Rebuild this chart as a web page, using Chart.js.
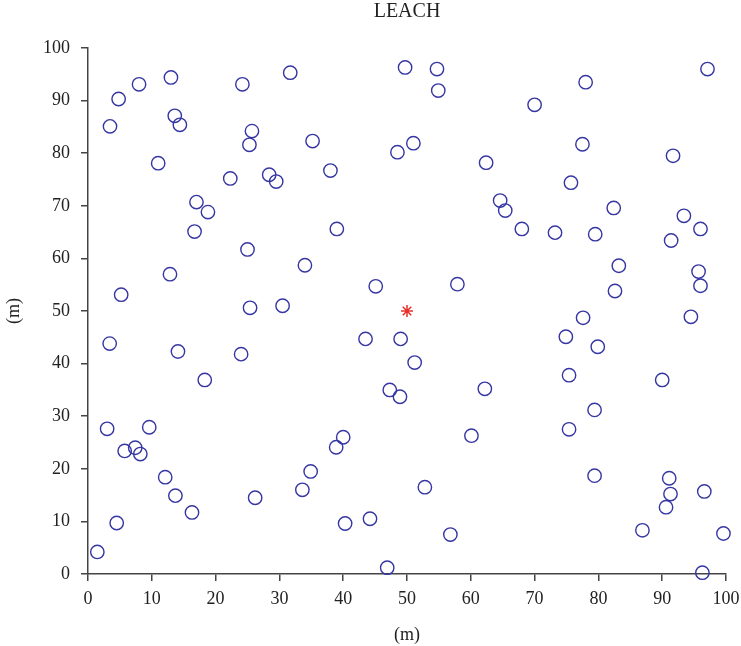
<!DOCTYPE html>
<html>
<head>
<meta charset="utf-8">
<title>LEACH</title>
<script src="https://cdn.jsdelivr.net/npm/chart.js@4.4.1/dist/chart.umd.min.js"></script>
<style>
  html,body{margin:0;padding:0;background:#fff;}
  #wrap{width:741px;height:646px;position:relative;}
</style>
</head>
<body>
<div id="wrap"><canvas id="chart"></canvas></div>
<script>
/* sensor nodes (m) */
const nodeX=[
  3.45,4.8,8.0,13.0,13.6,14.4,11.0,24.2,31.7,49.7,25.7,25.3,35.2,48.5,22.3,28.4,29.5,38.0,17.0,18.8,16.7,39.0,25.0,34.0,12.85,5.2,45.1,
  54.7,54.9,78.0,97.1,70.0,51.0,62.4,77.5,91.7,75.7,64.6,65.4,82.4,93.4,96.0,91.4,68.0,73.2,79.5,83.2,95.7,96.0,82.6,57.9,
  25.4,30.5,3.4,14.1,24.0,43.5,49.0,18.3,47.3,48.9,3.0,9.6,5.75,7.4,8.2,12.1,13.7,16.3,4.5,1.46,40.0,38.9,34.9,33.6,26.2,40.3,44.2,46.9,
  77.6,94.5,74.9,79.9,51.2,75.4,90.0,62.2,79.4,75.4,60.1,79.4,91.1,91.3,90.6,96.6,52.8,56.8,86.9,99.6,96.3
];
const nodeY=[
  85.1,90.3,93.1,94.4,87.1,85.4,78.1,93.1,95.3,96.3,84.2,81.6,82.3,80.2,75.2,75.9,74.6,76.7,70.7,68.8,65.1,65.6,61.7,58.7,57.0,53.1,54.7,
  96.0,91.9,93.5,96.0,89.2,81.9,78.2,81.7,79.5,74.4,71.0,69.1,69.6,68.1,65.6,63.4,65.6,64.9,64.6,58.6,57.5,54.8,53.8,55.1,
  50.6,51.0,43.8,42.3,41.8,44.7,44.7,36.9,35.0,33.7,27.6,27.9,23.4,24.0,22.8,18.4,14.9,11.7,9.7,4.2,26.0,24.1,19.5,16.0,14.5,9.6,10.5,1.2,
  48.7,48.9,45.1,43.2,40.2,37.8,36.9,35.2,31.2,27.5,26.3,18.7,18.2,15.2,12.7,15.7,16.5,7.5,8.3,7.7,0.25
];

/* base station */
const sinkX=[50];
const sinkY=[50];

/* axes */
const AXIS_MIN=0;
const AXIS_MAX=100;
const AXIS_STEP=10;
const TITLE="LEACH";
const AXIS_LABEL="(m)";

const FONT="'Liberation Serif','Times New Roman',serif";
const INK="#222";
const AXIS_COLOR="#444";

function toPoints(xs,ys){
  return xs.map((x,i)=>({x:x,y:ys[i]}));
}

/* title centred over the plot area */
const plotTitle={
  id:"plotTitle",
  afterDraw(chart){
    const ctx=chart.ctx;
    const area=chart.chartArea;
    ctx.save();
    ctx.font="20px "+FONT;
    ctx.fillStyle=INK;
    ctx.textAlign="center";
    ctx.textBaseline="middle";
    ctx.fillText(TITLE,(area.left+area.right)/2,12);
    ctx.restore();
  }
};

function axis(width,height){
  return {
    type:"linear",
    min:AXIS_MIN,
    max:AXIS_MAX,
    ticks:{stepSize:AXIS_STEP,color:INK,font:{family:FONT,size:18},padding:width?11:7},
    grid:{drawOnChartArea:false,drawTicks:true,tickLength:7,color:AXIS_COLOR,lineWidth:1.5},
    border:{display:true,color:AXIS_COLOR,width:1.5},
    title:{display:true,text:AXIS_LABEL,color:INK,font:{family:FONT,size:18},padding:{top:3,bottom:0}},
    afterFit(scale){
      // fixed box sizes, no extra room for end labels
      if(width) scale.width=width;
      if(height) scale.height=height;
      scale.paddingLeft=0;
      scale.paddingRight=0;
      scale.paddingTop=0;
      scale.paddingBottom=0;
    }
  };
}

new Chart(document.getElementById("chart"),{
  type:"scatter",
  data:{
    datasets:[
      {
        label:"nodes",
        data:toPoints(nodeX,nodeY),
        pointStyle:"circle",
        pointRadius:6.7,
        pointHoverRadius:6.7,
        borderColor:"#3535a3",
        backgroundColor:"rgba(0,0,0,0)",
        pointBorderWidth:1.4,
        clip:false
      },
      {
        label:"sink",
        data:toPoints(sinkX,sinkY),
        pointStyle:"star",
        pointRadius:6,
        pointHoverRadius:6,
        borderColor:"#e8302a",
        backgroundColor:"#e8302a",
        pointBorderWidth:1.5,
        clip:false
      }
    ]
  },
  options:{
    responsive:true,
    maintainAspectRatio:false,
    animation:false,
    layout:{padding:{top:48,right:15,left:0,bottom:0}},
    plugins:{legend:{display:false},tooltip:{enabled:false},title:{display:false}},
    scales:{
      x:axis(0,72),
      y:axis(88,0)
    }
  },
  plugins:[plotTitle]
});
</script>
</body>
</html>
